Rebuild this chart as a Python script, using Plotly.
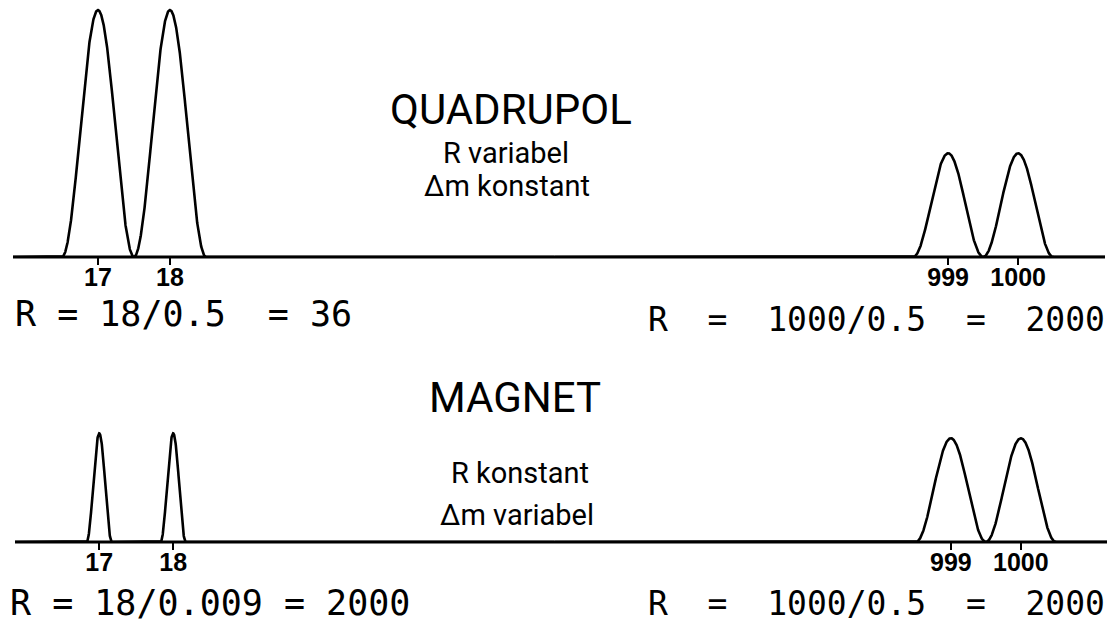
import numpy as np
import plotly.graph_objects as go

W, H = 1109, 625

# Peak tables: nominal mass, relative height, half-width at the base (mass units)
quad_low_mass = [17, 18]
quad_low_height = [1.0, 1.0]
quad_low_halfwidth = [0.5, 0.5]

quad_high_mass = [999, 1000]
quad_high_height = [0.42, 0.42]
quad_high_halfwidth = [0.5, 0.5]

mag_low_mass = [17, 18]
mag_low_height = [0.44, 0.44]
mag_low_halfwidth = [0.17, 0.17]

mag_high_mass = [999, 1000]
mag_high_height = [0.42, 0.42]
mag_high_halfwidth = [0.5, 0.5]

low_tick_labels = ["17", "18"]
high_tick_labels = ["999", "1000"]

titles = ["QUADRUPOL", "MAGNET"]
subtitles = [["R variabel", "\u0394m konstant"], ["R konstant", "\u0394m variabel"]]
NB = "\u00a0"
formulas = [
    ["R = 18/0.5" + NB * 2 + "= 36",
     "R" + NB * 2 + "=" + NB * 2 + "1000/0.5" + NB * 2 + "=" + NB * 2 + "2000"],
    ["R = 18/0.009 = 2000",
     "R" + NB * 2 + "=" + NB * 2 + "1000/0.5" + NB * 2 + "=" + NB * 2 + "2000"],
]


def spectrum(masses, heights, halfwidths, lo, hi, n=3000):
    """Sum of raised-cosine peak profiles sampled on [lo, hi]."""
    x = np.linspace(lo, hi, n)
    x = np.union1d(x, np.asarray(masses, dtype=float))
    y = np.zeros_like(x)
    for m, h, w in zip(masses, heights, halfwidths):
        d = np.abs(x - m)
        inside = d < w
        y[inside] += h * np.cos(np.pi * d[inside] / (2 * w)) ** 2
    return x, y


fig = go.Figure()

panels = [
    # (xaxis, yaxis, masses, heights, halfwidths, range)
    ("x", "y", quad_low_mass, quad_low_height, quad_low_halfwidth, [15.82, 23.34]),
    ("x2", "y", quad_high_mass, quad_high_height, quad_high_halfwidth, [993.38, 1001.24]),
    ("x3", "y2", mag_low_mass, mag_low_height, mag_low_halfwidth, [15.86, 23.16]),
    ("x4", "y2", mag_high_mass, mag_high_height, mag_high_halfwidth, [993.34, 1001.23]),
]

for xa, ya, m, h, w, rng in panels:
    x, y = spectrum(m, h, w, rng[0], rng[1])
    fig.add_trace(go.Scatter(x=x, y=y, mode="lines", xaxis=xa, yaxis=ya,
                             line=dict(color="black", width=2.6),
                             hoverinfo="skip", showlegend=False))

tick_font = dict(family="Liberation Sans, Arial, sans-serif", size=25,
                 color="black", weight="bold")


def xaxis_style(domain, rng, vals, labels, anchor):
    return dict(domain=domain, range=rng, anchor=anchor,
                showgrid=False, zeroline=False, showline=False,
                ticks="outside", ticklen=7, tickwidth=1.6, tickcolor="black",
                tickvals=vals, ticktext=labels, tickfont=tick_font,
                ticklabelstandoff=-9, fixedrange=True)


TOP_DOMAIN = [0.5888, 1.0]
BOTTOM_DOMAIN = [0.1328, 0.5]


def yaxis_style(domain, rng):
    return dict(domain=domain, range=rng, visible=False,
                showgrid=False, zeroline=False, fixedrange=True)


fig.update_layout(
    width=W, height=H,
    margin=dict(l=0, r=0, t=0, b=0),
    paper_bgcolor="white", plot_bgcolor="rgba(0,0,0,0)",
    showlegend=False,
    xaxis=xaxis_style([0.0117, 0.5], [15.82, 23.34], quad_low_mass, low_tick_labels, "y"),
    xaxis2=xaxis_style([0.5, 0.9964], [993.38, 1001.24], quad_high_mass, high_tick_labels, "y"),
    xaxis3=xaxis_style([0.0135, 0.5], [15.86, 23.16], mag_low_mass, low_tick_labels, "y2"),
    xaxis4=xaxis_style([0.5, 0.9982], [993.34, 1001.23], mag_high_mass, high_tick_labels, "y2"),
    yaxis=yaxis_style(TOP_DOMAIN, [0, 1.0405]),
    yaxis2=yaxis_style(BOTTOM_DOMAIN, [0, 0.929]),
)

# Continuous baselines (intensity zero) running under both halves of each spectrum
fig.add_shape(type="line", xref="paper", yref="paper", x0=13 / W, x1=1105 / W,
              y0=TOP_DOMAIN[0], y1=TOP_DOMAIN[0], line=dict(color="black", width=2.8))
fig.add_shape(type="line", xref="paper", yref="paper", x0=15 / W, x1=1107 / W,
              y0=BOTTOM_DOMAIN[0], y1=BOTTOM_DOMAIN[0], line=dict(color="black", width=2.8))

title_family = "Roboto, Liberation Sans, Arial, sans-serif"
mono_family = "DejaVu Sans Mono, monospace"


def add_text(text, x_px, y_px, size, family, xanchor="center"):
    fig.add_annotation(text=text, xref="paper", yref="paper",
                       x=x_px / W, y=1 - y_px / H,
                       xanchor=xanchor, yanchor="middle", showarrow=False,
                       font=dict(family=family, size=size, color="black"))


# Instrument labels
add_text(titles[0], 511, 110, 42, title_family)
add_text(subtitles[0][0], 506, 153, 29, title_family)
add_text(subtitles[0][1], 507, 186, 29, title_family)
add_text(titles[1], 515, 397, 42, title_family)
add_text(subtitles[1][0], 520, 473, 29, title_family)
add_text(subtitles[1][1], 517, 515, 29, title_family)

# Resolution formulas
add_text(formulas[0][0], 13, 314, 35, mono_family, "left")
add_text(formulas[0][1], 1107, 319, 33, mono_family, "right")
add_text(formulas[1][0], 8, 603, 35, mono_family, "left")
add_text(formulas[1][1], 1107, 603, 33, mono_family, "right")

fig.write_html("out.html")
